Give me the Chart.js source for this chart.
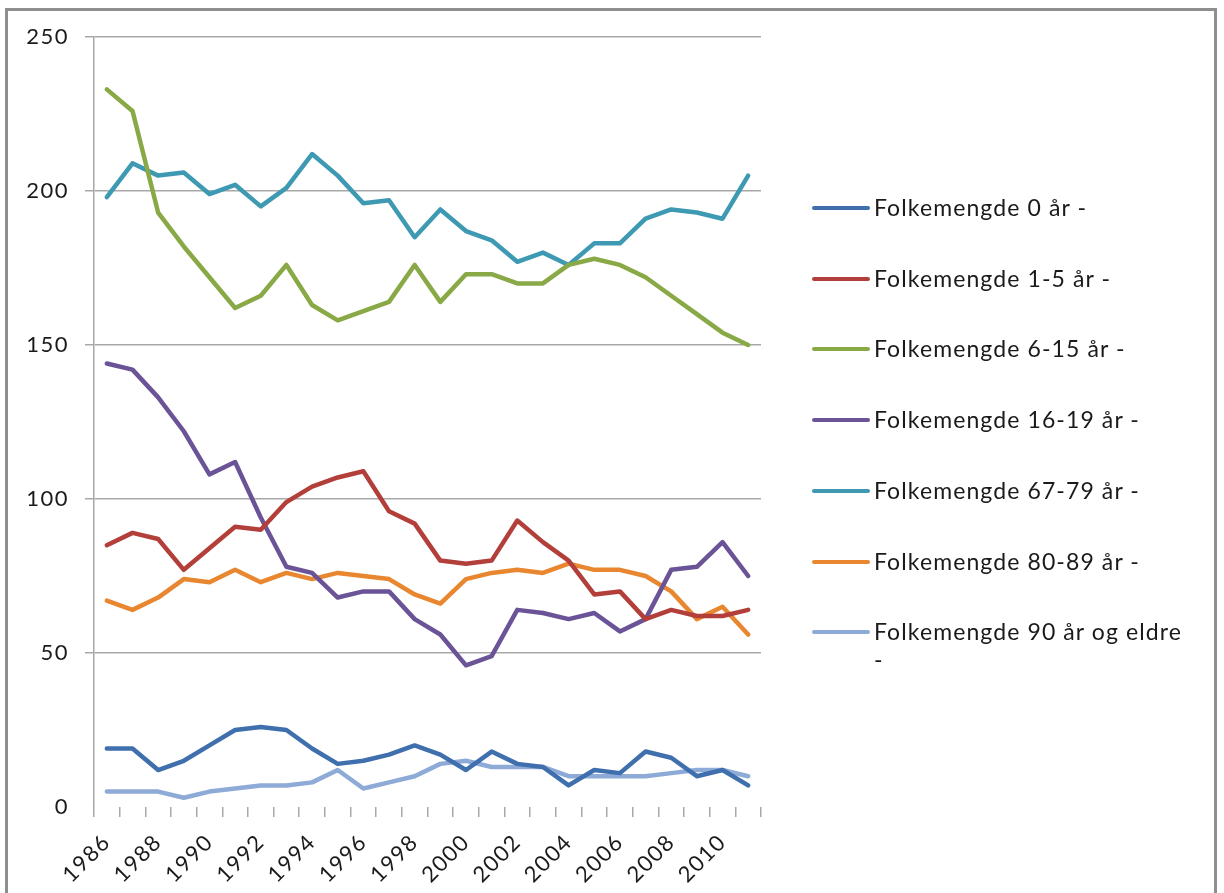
<!DOCTYPE html>
<html>
<head>
<meta charset="utf-8">
<script src="https://cdn.jsdelivr.net/npm/chart.js@4.4.1/dist/chart.umd.min.js"></script>
<style>
    body { margin: 0; background: #fff; }
    #wrap { position: relative; width: 1224px; height: 893px; overflow: hidden; }
    #frame { position: absolute; left: 5px; top: 8px; width: 1212px; height: 900px;
             border: 3px solid #8e8e8e; border-bottom: none; box-sizing: border-box; }
    #chart { position: absolute; left: 0; top: 0; }
    #legend { position: absolute; left: 812px; top: 0; font-family: Lato, "Open Sans", sans-serif;
              font-size: 23px; letter-spacing: 1.1px; color: #1a1a1a; }
    .item { position: absolute; left: 0; }
    .swatch { position: absolute; left: 0; width: 58px; height: 4px; border-radius: 2px; }
    .txt { position: absolute; left: 62px; line-height: 28px; width: 322px; white-space: normal; }
</style>
</head>
<body>
<div id="wrap">
    <div id="frame"></div>
    <canvas id="chart" width="1224" height="893"></canvas>
    <div id="legend"></div>
</div>
<script>
    // Data
    let years = ['1986', '1987', '1988', '1989', '1990', '1991', '1992', '1993', '1994', '1995', '1996', '1997', '1998',
                 '1999', '2000', '2001', '2002', '2003', '2004', '2005', '2006', '2007', '2008', '2009', '2010', '2011'];

    let age0 = [19, 19, 12, 15, 20, 25, 26, 25, 19, 14, 15, 17, 20, 17, 12, 18, 14, 13, 7, 12, 11, 18, 16, 10, 12, 7];
    let age1to5 = [85, 89, 87, 77, 84, 91, 90, 99, 104, 107, 109, 96, 92, 80, 79, 80, 93, 86, 80, 69, 70, 61, 64, 62, 62, 64];
    let age6to15 = [233, 226, 193, 182, 172, 162, 166, 176, 163, 158, 161, 164, 176, 164, 173, 173, 170, 170, 176, 178, 176, 172, 166, 160, 154, 150];
    let age16to19 = [144, 142, 133, 122, 108, 112, 94, 78, 76, 68, 70, 70, 61, 56, 46, 49, 64, 63, 61, 63, 57, 61, 77, 78, 86, 75];
    let age67to79 = [198, 209, 205, 206, 199, 202, 195, 201, 212, 205, 196, 197, 185, 194, 187, 184, 177, 180, 176, 183, 183, 191, 194, 193, 191, 205];
    let age80to89 = [67, 64, 68, 74, 73, 77, 73, 76, 74, 76, 75, 74, 69, 66, 74, 76, 77, 76, 79, 77, 77, 75, 70, 61, 65, 56];
    let age90plus = [5, 5, 5, 3, 5, 6, 7, 7, 8, 12, 6, 8, 10, 14, 15, 13, 13, 13, 10, 10, 10, 10, 11, 12, 12, 10];

    let seriesNames = ['Folkemengde 0 år -', 'Folkemengde 1-5 år -', 'Folkemengde 6-15 år -', 'Folkemengde 16-19 år -',
                       'Folkemengde 67-79 år -', 'Folkemengde 80-89 år -', 'Folkemengde 90 år og eldre -'];
    let seriesColors = ['#3f6fad', '#b33f3b', '#88a946', '#6a5497', '#3e99b2', '#e8872f', '#8eaad6'];
    let seriesValues = [age0, age1to5, age6to15, age16to19, age67to79, age80to89, age90plus];

    let gridColor = '#a8a8a8';
    let font = { family: 'Lato, "Open Sans", sans-serif', size: 22 };

    let datasets = seriesNames.map(function(name, i) {
        return {
            label: name,
            data: seriesValues[i],
            borderColor: seriesColors[i],
            backgroundColor: seriesColors[i],
            borderWidth: 4.5,
            pointRadius: 0,
            tension: 0,
            borderJoinStyle: 'round',
            borderCapStyle: 'round'
        };
    });

    // wider letter spacing for the axis labels
    let spacingPlugin = {
        id: 'spacing',
        beforeDraw: function(chart) { chart.ctx.letterSpacing = '1.5px'; }
    };

    let ctx = document.getElementById('chart').getContext('2d');
    let myChart = new Chart(ctx, {
        type: 'line',
        data: { labels: years, datasets: datasets },
        plugins: [spacingPlugin],
        options: {
            responsive: false,
            animation: false,
            layout: { padding: { left: 0, top: 37, right: 463, bottom: 0 } },
            plugins: { legend: { display: false }, tooltip: { enabled: false } },
            scales: {
                x: {
                    offset: true,
                    grid: { offset: true, drawOnChartArea: false, drawTicks: true, tickLength: 10, color: gridColor, lineWidth: 1.5 },
                    border: { display: false },
                    ticks: {
                        autoSkip: false, maxRotation: 45, minRotation: 45, padding: 12,
                        color: '#1a1a1a', font: font,
                        callback: function(v, i) { return i % 2 === 0 ? years[i] : ''; }
                    },
                    afterFit: function(scale) { scale.height = 86; }
                },
                y: {
                    min: 0, max: 250,
                    grid: {
                        color: function(c) { return c.tick && c.tick.value === 0 ? 'rgba(0,0,0,0)' : gridColor; },
                        lineWidth: 1.5, tickLength: 9
                    },
                    border: { display: true, color: gridColor, width: 1.5 },
                    ticks: { stepSize: 50, color: '#1a1a1a', font: font, padding: 16 },
                    afterFit: function(scale) { scale.width = 94; }
                }
            }
        }
    });

    // Legend on the right, built from the same arrays
    let legend = document.getElementById('legend');
    seriesNames.forEach(function(name, i) {
        let item = document.createElement('div');
        item.className = 'item';
        item.style.top = (208 + i * 70.7) + 'px';
        let sw = document.createElement('div');
        sw.className = 'swatch';
        sw.style.background = seriesColors[i];
        sw.style.top = '-2px';
        let t = document.createElement('div');
        t.className = 'txt';
        t.style.top = '-15px';
        t.textContent = name;
        item.appendChild(sw);
        item.appendChild(t);
        legend.appendChild(item);
    });
</script>
</body>
</html>
